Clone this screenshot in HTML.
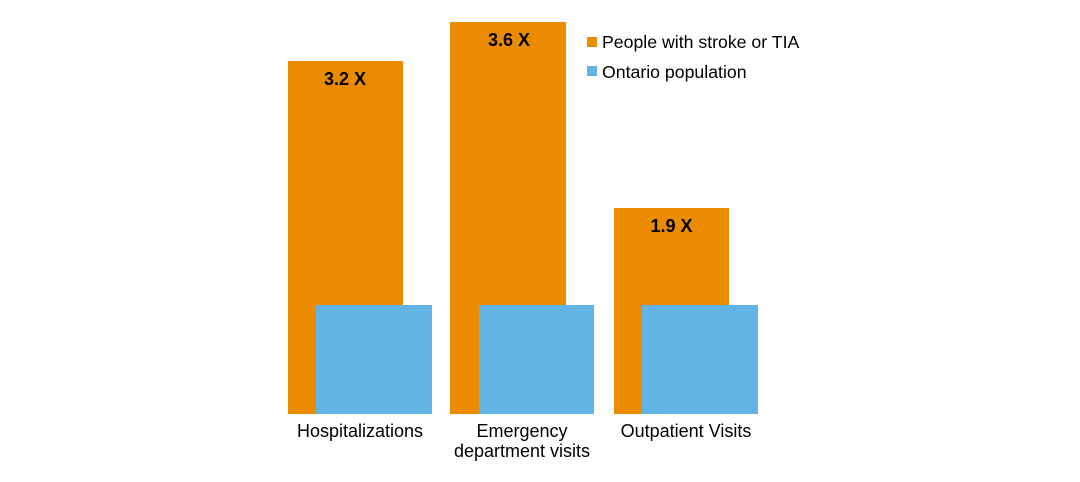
<!DOCTYPE html>
<html>
<head>
<meta charset="utf-8">
<style>
html,body{margin:0;padding:0;background:#fff;}
svg{display:block;}
text{font-family:"Liberation Sans",Arial,sans-serif;fill:#000;}
</style>
</head>
<body>
<svg width="1080" height="482" viewBox="0 0 1080 482" xmlns="http://www.w3.org/2000/svg">
<rect x="0" y="0" width="1080" height="482" fill="#fff"/>
<!-- orange bars -->
<rect x="288" y="61" width="115" height="353" fill="#EB8C00"/>
<rect x="450" y="22" width="116" height="392" fill="#EB8C00"/>
<rect x="614" y="208" width="115" height="206" fill="#EB8C00"/>
<!-- blue bars -->
<rect x="316" y="305" width="116" height="109" fill="#62B4E4"/>
<rect x="479" y="305" width="115" height="109" fill="#62B4E4"/>
<rect x="642" y="305" width="116" height="109" fill="#62B4E4"/>
<!-- value labels -->
<text x="345" y="85" font-size="18" font-weight="bold" text-anchor="middle">3.2 X</text>
<text x="509" y="46" font-size="18" font-weight="bold" text-anchor="middle">3.6 X</text>
<text x="671.5" y="232" font-size="18" font-weight="bold" text-anchor="middle">1.9 X</text>
<!-- category labels -->
<text x="360" y="437" font-size="18" text-anchor="middle">Hospitalizations</text>
<text x="522" y="437" font-size="18" text-anchor="middle">Emergency</text>
<text x="522" y="457" font-size="18" text-anchor="middle">department visits</text>
<text x="686" y="437" font-size="18" text-anchor="middle">Outpatient Visits</text>
<!-- legend -->
<rect x="587" y="37" width="10" height="10" fill="#EB8C00"/>
<text x="602" y="48" font-size="17.7">People with stroke or TIA</text>
<rect x="587" y="66" width="10" height="10" fill="#62B4E4"/>
<text x="602" y="78" font-size="17.7">Ontario population</text>
</svg>
</body>
</html>
